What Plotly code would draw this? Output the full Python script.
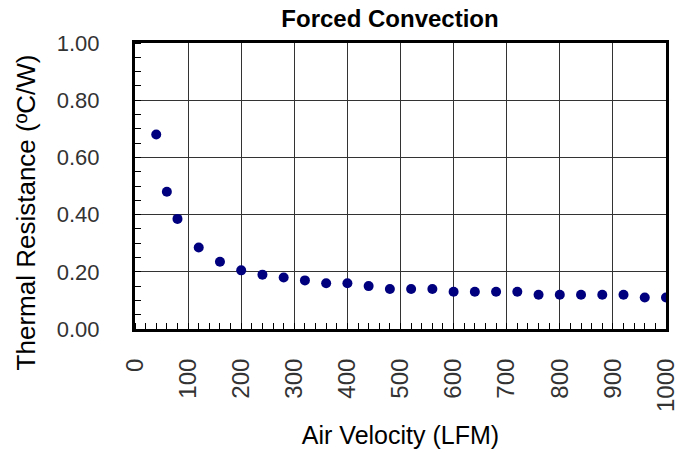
import plotly.graph_objects as go

air_velocity = [40, 60, 80, 120, 160, 200, 240, 280, 320, 360, 400, 440, 480,
                520, 560, 600, 640, 680, 720, 760, 800, 840, 880, 920, 960, 1000]
thermal_resistance = [0.68, 0.48, 0.385, 0.285, 0.235, 0.205, 0.19, 0.18, 0.17,
                      0.16, 0.16, 0.15, 0.14, 0.14, 0.14, 0.13, 0.13, 0.13, 0.13,
                      0.12, 0.12, 0.12, 0.12, 0.12, 0.11, 0.11]
x_ticks = [0, 100, 200, 300, 400, 500, 600, 700, 800, 900, 1000]
y_ticks = [0.0, 0.2, 0.4, 0.6, 0.8, 1.0]
y_tick_labels = ["0.00", "0.20", "0.40", "0.60", "0.80", "1.00"]

FONT = "Liberation Sans, Arial, sans-serif"
W, H = 689, 453
# target plot box in page pixels
PX0, PX1, PY0, PY1 = 135, 666, 42.5, 328.7

fig = go.Figure()
fig.add_trace(go.Scatter(
    x=air_velocity, y=thermal_resistance, mode="markers",
    marker=dict(color="#00007f", size=10, line=dict(width=0)),
    showlegend=False, hoverinfo="x+y",
))

fig.update_layout(
    width=W, height=H,
    margin=dict(l=PX0, r=W - PX1, t=PY0, b=H - PY1, autoexpand=False, pad=0),
    paper_bgcolor="white", plot_bgcolor="white",
    font=dict(family=FONT, color="#111"),
    title=dict(text="<b>Forced Convection</b>", font=dict(size=24, color="black"),
               x=390 / W, xref="container", xanchor="center",
               y=1 - 19 / H, yref="container", yanchor="middle",
               automargin=False),
    xaxis=dict(
        range=[0, 1000], tickmode="array", tickvals=x_ticks,
        ticktext=[str(v) for v in x_ticks], tickangle=-90,
        tickfont=dict(size=24, color="#333"), ticks="", ticklabelstandoff=17,
        showgrid=True, gridcolor="#333", gridwidth=1,
        showline=True, linecolor="black", linewidth=3, mirror=True,
        zeroline=False, automargin=False,
        minor=dict(dtick=20, tick0=0, ticks="inside", ticklen=6,
                   tickcolor="black", tickwidth=1, showgrid=False),
        title=dict(text="Air Velocity (LFM)", font=dict(size=25, color="black"),
                   standoff=16),
        fixedrange=True,
    ),
    yaxis=dict(
        range=[0, 1], tickmode="array", tickvals=y_ticks, ticktext=y_tick_labels,
        tickfont=dict(size=22, color="#333"), ticks="", ticklabelstandoff=28,
        showgrid=True, gridcolor="#333", gridwidth=1,
        showline=True, linecolor="black", linewidth=3, mirror=True,
        zeroline=False, automargin=False,
        minor=dict(dtick=0.05, tick0=0, ticks="inside", ticklen=6,
                   tickcolor="black", tickwidth=1, showgrid=False),
        fixedrange=True,
    ),
    annotations=[dict(
        text="Thermal Resistance (ºC/W)", textangle=-90,
        xref="paper", yref="paper",
        x=(26 - PX0) / (PX1 - PX0), y=(PY1 - 212) / (PY1 - PY0),
        xanchor="center", yanchor="middle", showarrow=False,
        font=dict(size=26, color="black"),
    )],
)

# remove the browser's default 8px body margin so the figure fills the window
fig.write_html(
    "out.html",
    config={"displayModeBar": False},
    post_script="document.body.style.margin='0';"
                "document.documentElement.style.overflow='hidden';",
)
